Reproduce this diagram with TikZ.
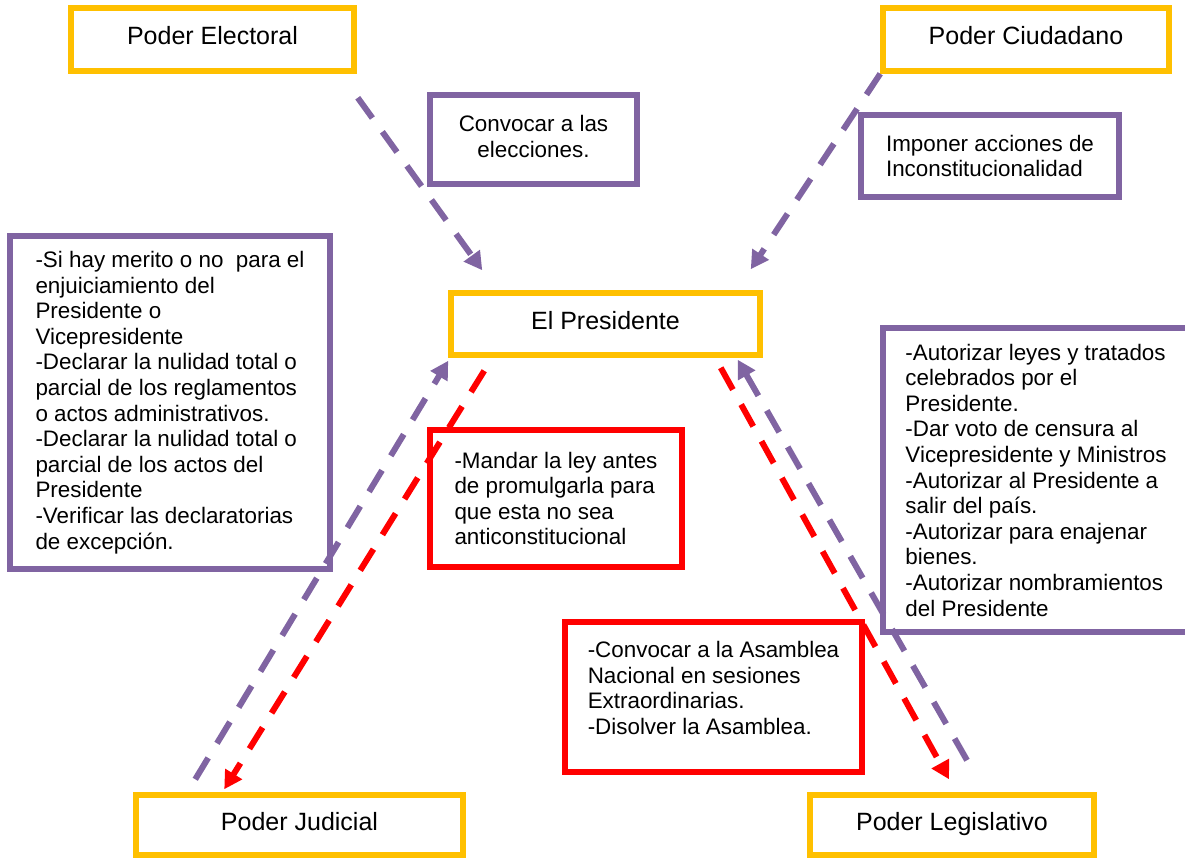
\documentclass[tikz,border=0pt]{standalone}
\usepackage{fontspec}
\setmainfont{Liberation Sans}
\usetikzlibrary{arrows.meta}
\definecolor{amarillo}{HTML}{FFC000}
\definecolor{morado}{HTML}{8064A2}
\definecolor{rojo}{HTML}{FF0000}

\begin{document}
\begin{tikzpicture}[x=1pt,y=-1pt,
    poder/.style={draw=amarillo,line width=5.5pt,inner sep=0pt,text height=18pt,text depth=8pt,font=\fontsize{25}{30}\selectfont},
    nota/.style={draw=morado,line width=5.5pt,inner sep=0pt,align=left,font=\fontsize{22.4}{25.6}\selectfont},
    notaroja/.style={nota,draw=rojo},
    flechamorada/.style={draw=morado,line width=6pt,dash pattern=on 25pt off 17pt,-{Triangle[length=18pt,width=19pt]}},
    flecharoja/.style={flechamorada,draw=rojo}]
    \useasboundingbox (0,0) rectangle (1185,857);
    \node[poder,minimum width=283pt,minimum height=63pt] (electoral) at (212.5,39.5) {Poder Electoral};
    \node[poder,minimum width=286pt,minimum height=63pt] (ciudadano) at (1026,39.5) {Poder Ciudadano};
    \node[poder,minimum width=309pt,minimum height=62pt] (presidente) at (605.5,324) {El Presidente};
    \node[poder,minimum width=327pt,minimum height=60pt] (judicial) at (299.5,825) {Poder Judicial};
    \node[poder,minimum width=284pt,minimum height=60pt] (legislativo) at (952,825) {Poder Legislativo};
    \node[nota,align=center,minimum width=207pt,minimum height=89pt] (convocar) at (533.5,139.5) {Convocar a las\\elecciones.\rule[-6pt]{0pt}{6pt}};
    \node[nota,minimum width=258pt,minimum height=82pt] (imponer) at (990,156) {Imponer acciones de\\Inconstitucionalidad};
    \node[nota,minimum width=320pt,minimum height=333pt] (notajudicial) at (170,402.5) {-Si hay merito o no~ para el\\enjuiciamiento del\\Presidente o\\Vicepresidente\\-Declarar la nulidad total o\\parcial de los reglamentos\\o actos administrativos.\\-Declarar la nulidad total o\\parcial de los actos del\\Presidente\\-Verificar las declaratorias\\de excepción.};
    \node[nota,minimum width=306pt,minimum height=304pt] (notalegislativo) at (1036,480) {-Autorizar leyes y tratados\\celebrados por el\\Presidente.\\-Dar voto de censura al\\Vicepresidente y Ministros\\-Autorizar al Presidente a\\salir del país.\\-Autorizar para enajenar\\bienes.\\-Autorizar nombramientos\\del Presidente};
    \node[notaroja,minimum width=252pt,minimum height=137pt] (mandar) at (556,498.5) {-Mandar la ley antes\\de promulgarla para\\que esta no sea\\anticonstitucional};
    \node[notaroja,minimum width=297pt,minimum height=150pt] (asamblea) at (713.5,697) {-Convocar a la Asamblea\\Nacional en sesiones\\Extraordinarias.\\-Disolver la Asamblea.\rule[-18pt]{0pt}{18pt}};
    \draw[flechamorada] ([xshift=1pt,yshift=-24pt]electoral.south east) -- ([xshift=34pt,yshift=20pt]presidente.north west);
    \draw[flechamorada] (ciudadano.south west) -- ([xshift=-12pt,yshift=21pt]presidente.north east);
    \draw[flechamorada] ([xshift=62pt,yshift=13pt]judicial.north west) -- ([yshift=-3pt]presidente.south west);
    \draw[flecharoja] ([xshift=36pt,yshift=-13pt]presidente.south west) -- ([xshift=91pt,yshift=3pt]judicial.north west);
    \draw[flecharoja] ([xshift=-42pt,yshift=-10pt]presidente.south east) -- ([xshift=-3pt,yshift=13pt]legislativo.north);
    \draw[flechamorada] ([xshift=15pt,yshift=32pt]legislativo.north) -- ([xshift=-25pt,yshift=-2pt]presidente.south east);
\end{tikzpicture}
\end{document}
